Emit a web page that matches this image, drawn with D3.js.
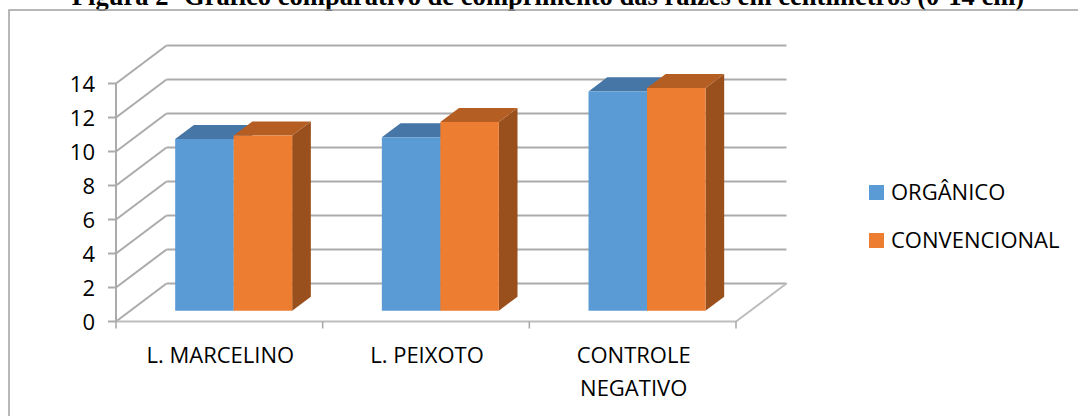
<!DOCTYPE html>
<html>
<head>
<meta charset="utf-8">
<script src="https://cdn.jsdelivr.net/npm/d3@7"></script>
<style>
  html, body { margin: 0; padding: 0; background: #fff; }
  svg { display: block; }
</style>
</head>
<body>
<svg id="chart" width="1078" height="416"></svg>
<script>
// Comprimento das raízes (cm) por tratamento
const categories = ["L. MARCELINO", "L. PEIXOTO", "CONTROLE NEGATIVO"];
const categoryLines = [["L. MARCELINO"], ["L. PEIXOTO"], ["CONTROLE", "NEGATIVO"]];
const seriesNames = ["ORGÂNICO", "CONVENCIONAL"];
const organico = [10.1, 10.2, 12.9];
const convencional = [10.3, 11.1, 13.1];
const yTicks = [0, 2, 4, 6, 8, 10, 12, 14];
const titleText = "Figura 2- Gráfico comparativo de comprimento das raízes em centímetros (0-14 cm)";

const seriesValues = [organico, convencional];
const colors = {
  front: ["#5B9BD5", "#ED7D31"],
  top:   ["#4676A6", "#B55E23"],
  side:  ["#3E6893", "#9A501D"]
};

const svg = d3.select("#chart");
const W = 1078, H = 416;

// 3D box geometry: depth offset of the back wall relative to the front plane
const DX = 50.5, DY = -38;
const d0 = 0.284, d1 = 0.654;           // bar front / back depth
const proj = (px, py, d) => [px + DX * d, py + DY * d];

const y = d3.scaleLinear().domain([0, 14]).range([321.5, 83.5]);
const x = d3.scaleBand().domain(categories).range([116, 736]).padding(0);
const bw = x.bandwidth();
const xs = d3.scaleBand().domain(seriesNames).range([bw * 0.217, bw * 0.783]).padding(0);

const gridColor = "#ABABAB";
const labelFont = "'Open Sans', sans-serif";
const labelSize = 22;

// Title (partly above the chart frame)
const title = svg.append("text")
  .attr("x", 548).attr("y", 5)
  .attr("text-anchor", "middle")
  .attr("font-family", "'Liberation Serif', 'Times New Roman', serif")
  .attr("font-weight", "bold")
  .attr("font-size", 22)
  .attr("fill", "#000")
  .text(titleText);
const tl = title.node().getComputedTextLength();
title.attr("font-size", 22 * 953 / tl);

// Chart frame
svg.append("path")
  .attr("d", `M9,${H + 2} V10 H${W + 2}`)
  .attr("fill", "none").attr("stroke", "#A0A0A0").attr("stroke-width", 1.5);

const line = d3.line();
const g = svg.append("g");

// Back wall gridlines
yTicks.forEach(v => {
  g.append("path")
    .attr("d", line([proj(116, y(v), 1), proj(736, y(v), 1)]))
    .attr("stroke", gridColor).attr("stroke-width", 2).attr("fill", "none");
});
// Side wall gridlines
yTicks.forEach(v => {
  g.append("path")
    .attr("d", line([proj(116, y(v), 0), proj(116, y(v), 1)]))
    .attr("stroke", gridColor).attr("stroke-width", 2).attr("fill", "none");
});
// Floor outline
g.append("path")
  .attr("d", line([proj(116, y(0), 0), proj(736, y(0), 0), proj(736, y(0), 1)]))
  .attr("stroke", "#BDBDBD").attr("stroke-width", 2).attr("fill", "none");

// Category tick marks on the floor edge
const bounds = categories.map(c => x(c)).concat([x(categories[categories.length - 1]) + bw]);
bounds.forEach(bx => {
  g.append("line")
    .attr("x1", bx).attr("x2", bx)
    .attr("y1", y(0)).attr("y2", y(0) + 7)
    .attr("stroke", "#A6A6A6").attr("stroke-width", 1.5);
});

// Value axis
g.append("line")
  .attr("x1", 116).attr("x2", 116)
  .attr("y1", y(14)).attr("y2", y(0))
  .attr("stroke", gridColor).attr("stroke-width", 2);
yTicks.forEach(v => {
  g.append("line")
    .attr("x1", 108).attr("x2", 116)
    .attr("y1", y(v)).attr("y2", y(v))
    .attr("stroke", gridColor).attr("stroke-width", 2);
  g.append("text")
    .attr("x", 95).attr("y", y(v) + 8.5)
    .attr("text-anchor", "end")
    .attr("font-family", labelFont)
    .attr("font-size", labelSize)
    .attr("fill", "#000")
    .text(v);
});

// Bars: drawn left to right so each box overlaps the hidden side of its neighbour
const bars = g.append("g");
categories.forEach((c, ci) => {
  seriesNames.forEach((s, si) => {
    const v = seriesValues[si][ci];
    const x0 = x(c) + xs(s), x1 = x0 + xs.bandwidth();
    const yt = y(v), yb = y(0);
    const front = [proj(x0, yt, d0), proj(x1, yt, d0), proj(x1, yb, d0), proj(x0, yb, d0)];
    const top = [proj(x0, yt, d0), proj(x1, yt, d0), proj(x1, yt, d1), proj(x0, yt, d1)];
    const side = [proj(x1, yt, d0), proj(x1, yt, d1), proj(x1, yb, d1), proj(x1, yb, d0)];
    bars.append("path").attr("d", line(side) + "Z").attr("fill", colors.side[si]);
    bars.append("path").attr("d", line(top) + "Z").attr("fill", colors.top[si]);
    bars.append("path").attr("d", line(front) + "Z").attr("fill", colors.front[si]);
  });
});

// Category labels
categories.forEach((c, ci) => {
  const t = g.append("text")
    .attr("text-anchor", "middle")
    .attr("font-family", labelFont)
    .attr("font-size", labelSize)
    .attr("fill", "#000");
  categoryLines[ci].forEach((ln, li) => {
    t.append("tspan")
      .attr("x", x(c) + bw / 2 + 1)
      .attr("y", 363 + li * 33)
      .text(ln);
  });
});

// Legend
const legend = svg.append("g");
seriesNames.forEach((s, si) => {
  const ly = 200 + si * 48;
  legend.append("rect")
    .attr("x", 869).attr("y", ly - 15)
    .attr("width", 15).attr("height", 15)
    .attr("fill", colors.front[si]);
  legend.append("text")
    .attr("x", 891).attr("y", ly)
    .attr("font-family", labelFont)
    .attr("font-size", labelSize)
    .attr("fill", "#000")
    .text(s);
});
</script>
</body>
</html>
